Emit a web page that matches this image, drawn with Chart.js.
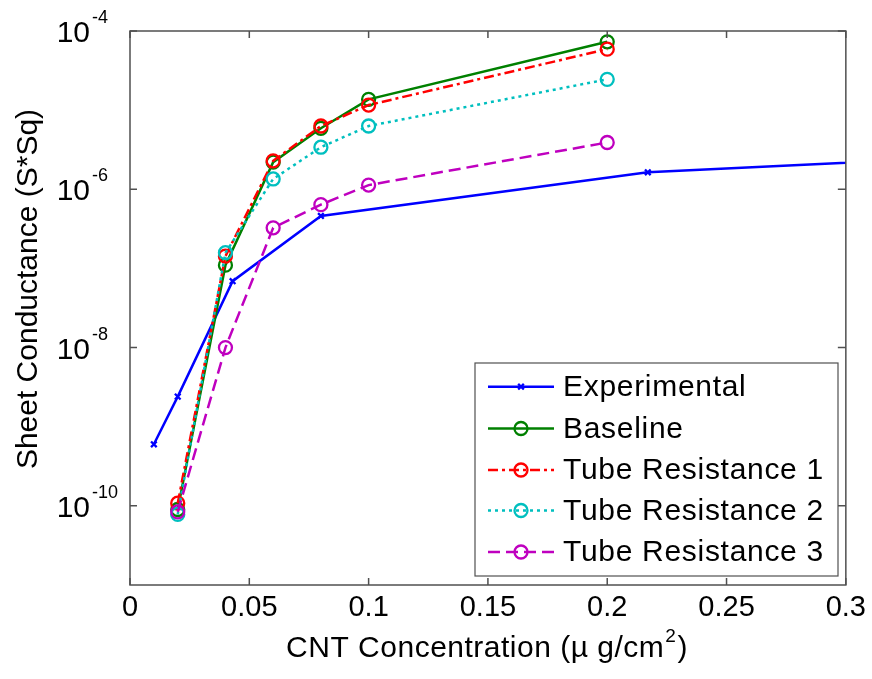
<!DOCTYPE html>
<html>
<head>
<meta charset="utf-8">
<script src="https://cdn.jsdelivr.net/npm/chart.js@4.4.0/dist/chart.umd.min.js"></script>
<style>
    html, body { margin: 0; padding: 0; background: #fff; }
    #wrap { width: 872px; height: 679px; position: relative; }
</style>
</head>
<body>
<div id="wrap"><canvas id="sheetChart"></canvas></div>
<script>
// concentrations (ug/cm^2)
const expX = [0.01, 0.02, 0.043, 0.08, 0.217, 0.35];
const simX = [0.02, 0.04, 0.06, 0.08, 0.1, 0.2];

// sheet conductance (S*Sq)
const experimental = [6.0e-10, 2.4e-9, 6.9e-8, 4.6e-7, 1.64e-6, 2.55e-6];
const baseline     = [9.0e-11, 1.10e-7, 2.2e-6, 5.9e-6, 1.37e-5, 7.3e-5];
const tubeRes1     = [1.08e-10, 1.43e-7, 2.29e-6, 6.3e-6, 1.16e-5, 5.9e-5];
const tubeRes2     = [7.8e-11, 1.58e-7, 1.35e-6, 3.4e-6, 6.3e-6, 2.45e-5];
const tubeRes3     = [8.4e-11, 1.0e-8, 3.26e-7, 6.4e-7, 1.13e-6, 3.9e-6];

const seriesNames = ["Experimental", "Baseline", "Tube Resistance 1", "Tube Resistance 2", "Tube Resistance 3"];
const yTicks = [1e-10, 1e-8, 1e-6, 1e-4];
const xTicks = [0, 0.05, 0.1, 0.15, 0.2, 0.25, 0.3];

const FONT = "'Liberation Sans', Arial, Helvetica, sans-serif";

const toPoints = (xs, ys) => xs.map((x, i) => ({ x: x, y: ys[i] }));

function series(label, xs, ys, color, dash, style, order) {
    return {
        label: label,
        data: toPoints(xs, ys),
        borderColor: color,
        backgroundColor: color,
        borderWidth: 2.5,
        borderDash: dash,
        pointStyle: style,
        pointRadius: style === "crossRot" ? 4 : 6.5,
        pointBorderWidth: 2.3,
        pointBorderColor: color,
        pointBackgroundColor: "rgba(0,0,0,0)",
        tension: 0,
        order: order
    };
}

const datasets = [
    series(seriesNames[0], expX, experimental, "#0000ff", [], "crossRot", 5),
    series(seriesNames[1], simX, baseline, "#008000", [], "circle", 4),
    series(seriesNames[2], simX, tubeRes1, "#ff0000", [10, 4, 3, 4], "circle", 3),
    series(seriesNames[3], simX, tubeRes2, "#00bfbf", [3, 4], "circle", 2),
    series(seriesNames[4], simX, tubeRes3, "#bf00bf", [12, 6], "circle", 1)
];

// frame, inward ticks, y labels with superscripts, axis titles, legend
const decorations = {
    id: "decorations",
    afterDatasetsDraw(chart) {
        const ctx = chart.ctx;
        const a = chart.chartArea;
        const xs = chart.scales.x;
        const ys = chart.scales.y;
        ctx.save();

        ctx.strokeStyle = "#505050";
        ctx.lineWidth = 1.5;
        ctx.setLineDash([]);
        ctx.strokeRect(a.left, a.top, a.right - a.left, a.bottom - a.top);

        ctx.beginPath();
        xTicks.forEach(v => {
            const px = xs.getPixelForValue(v);
            ctx.moveTo(px, a.bottom); ctx.lineTo(px, a.bottom - 7);
            ctx.moveTo(px, a.top); ctx.lineTo(px, a.top + 7);
        });
        yTicks.forEach(v => {
            const py = ys.getPixelForValue(v);
            ctx.moveTo(a.left, py); ctx.lineTo(a.left + 7, py);
            ctx.moveTo(a.right, py); ctx.lineTo(a.right - 8, py);
        });
        ctx.stroke();

        // y tick labels 10^n
        ctx.fillStyle = "#000";
        ctx.textBaseline = "alphabetic";
        yTicks.forEach(v => {
            const py = ys.getPixelForValue(v);
            const exp = Math.round(Math.log10(v));
            ctx.font = "30px " + FONT;
            ctx.textAlign = "right";
            ctx.fillText("10", 90, py + 11);
            ctx.font = "18px " + FONT;
            ctx.textAlign = "left";
            ctx.fillText(String(exp), 92, py - 8);
        });

        // y title
        ctx.save();
        ctx.translate(37, 289);
        ctx.rotate(-Math.PI / 2);
        ctx.font = "30px " + FONT;
        ctx.textAlign = "center";
        ctx.fillText("Sheet Conductance (S*Sq)", 0, 0);
        ctx.restore();

        // x title with superscript
        ctx.save();
        ctx.letterSpacing = "0.5px";
        ctx.font = "30px " + FONT;
        const part1 = "CNT Concentration (\u00b5 g/cm";
        const part3 = ")";
        const w1 = ctx.measureText(part1).width;
        const w3 = ctx.measureText(part3).width;
        ctx.font = "19px " + FONT;
        const w2 = ctx.measureText("2").width;
        let tx = 486 - (w1 + w2 + w3) / 2;
        ctx.textAlign = "left";
        ctx.font = "30px " + FONT;
        ctx.fillText(part1, tx, 657);
        ctx.font = "19px " + FONT;
        ctx.fillText("2", tx + w1 + 1, 642);
        ctx.font = "30px " + FONT;
        ctx.fillText(part3, tx + w1 + w2 + 2, 657);
        ctx.restore();

        // legend
        const box = { x: 475, y: 363, w: 363, h: 213 };
        ctx.fillStyle = "#fff";
        ctx.fillRect(box.x, box.y, box.w, box.h);
        ctx.strokeStyle = "#505050";
        ctx.lineWidth = 1.2;
        ctx.strokeRect(box.x, box.y, box.w, box.h);

        const rowY = [386.7, 428.5, 470, 510.5, 552];
        chart.data.datasets.forEach((ds, i) => {
            const y = rowY[i];
            ctx.strokeStyle = ds.borderColor;
            ctx.lineWidth = ds.borderWidth;
            ctx.setLineDash(ds.borderDash);
            ctx.beginPath();
            ctx.moveTo(488, y);
            ctx.lineTo(554, y);
            ctx.stroke();
            ctx.setLineDash([]);
            ctx.fillStyle = "rgba(0,0,0,0)";
            ctx.lineWidth = ds.pointBorderWidth;
            Chart.helpers.drawPoint(ctx, {
                pointStyle: ds.pointStyle,
                radius: ds.pointRadius,
                rotation: 0,
                borderWidth: ds.pointBorderWidth
            }, 521, y);
            ctx.fillStyle = "#000";
            ctx.font = "30px " + FONT;
            ctx.letterSpacing = "0.7px";
            ctx.textAlign = "left";
            ctx.textBaseline = "middle";
            ctx.fillText(ds.label, 563, y + 1);
            ctx.letterSpacing = "0px";
        });

        ctx.restore();
    }
};

const ctx = document.getElementById("sheetChart").getContext("2d");

new Chart(ctx, {
    type: "line",
    data: { datasets: datasets },
    options: {
        responsive: true,
        maintainAspectRatio: false,
        animation: false,
        layout: { padding: { top: 31, right: 25, left: 0, bottom: 0 } },
        plugins: {
            legend: { display: false },
            tooltip: { enabled: false }
        },
        scales: {
            x: {
                type: "linear",
                min: 0,
                max: 0.3,
                afterBuildTicks: s => { s.ticks = xTicks.map(v => ({ value: v })); },
                ticks: {
                    color: "#000",
                    font: { size: 29, family: FONT },
                    padding: 6,
                    maxRotation: 0,
                    callback: v => String(+v.toFixed(2))
                },
                grid: { display: false, drawTicks: false },
                border: { display: false },
                title: { display: false },
                afterFit: s => { s.height = 94; }
            },
            y: {
                type: "logarithmic",
                min: 1e-11,
                max: 1e-4,
                afterBuildTicks: s => { s.ticks = yTicks.map(v => ({ value: v })); },
                ticks: { display: false },
                grid: { display: false },
                border: { display: false },
                afterFit: s => { s.width = 130; }
            }
        }
    },
    plugins: [decorations]
});
</script>
</body>
</html>
